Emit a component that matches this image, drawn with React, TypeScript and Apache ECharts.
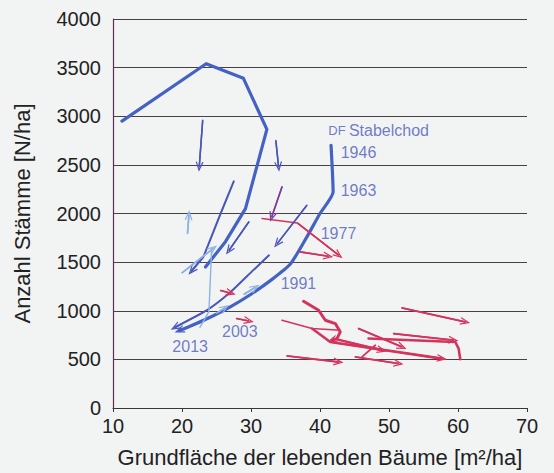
import React, { useEffect, useRef } from "react";
import * as echarts from "echarts";

// ---------- axis ----------
const xMin = 10;
const xMax = 70;
const xStep = 10;
const yMin = 0;
const yMax = 4000;
const yStep = 500;

// ---------- blue trajectories (DF Stabelchod) ----------
const loopTop = [[11.3, 2950], [23.5, 3540], [28.9, 3390], [32.3, 2865], [29.2, 2050], [26.3, 1710], [23.4, 1450]];
const loopInner = [[27.5, 2330], [25.6, 2000], [23.1, 1553], [21.4, 1410]];
const stabelchod = [[41.6, 2700], [41.9, 2220], [40.0, 2000], [38.1, 1760], [35.7, 1480], [33.0, 1320], [30.0, 1170], [27.0, 1040], [24.0, 930], [21.5, 850], [19.6, 795]];
const thinTrack = [[32.6, 1570], [30.3, 1415], [27.0, 1190], [23.6, 1005], [19.0, 830]];

// light blue
const lightA = [[20.0, 1390], [24.5, 1640]];
const lightB = [[24.3, 1640], [23.9, 990], [22.6, 830]];
const lightUp = [[20.8, 1795], [21.0, 1985]];
const lightOn1 = [[29.0, 1170], [30.6, 1240]];
const lightOn2 = [[25.0, 975], [26.2, 1030]];

// blue arrows
const down1 = [[23.0, 2960], [22.5, 2480]];
const down2 = [[33.6, 2750], [34.0, 2480]];
const diag1 = [[38.1, 2085], [33.8, 1690]];
const diag2 = [[29.7, 1915], [26.8, 1620]];
const purpleArrow = [[34.5, 2275], [33.0, 1965]];

// ---------- red trajectories ----------
const red1977 = [[31.6, 1949], [36.7, 1903], [42.7, 1571]];
const red2 = [[37.1, 1605], [41.2, 1561]];
const redSmall1 = [[25.6, 1208], [27.1, 1180]];
const redSmall2 = [[27.9, 920], [29.7, 895]];
const redA = [[37.62, 1098], [39.8, 1005], [40.77, 902], [42.22, 868], [42.94, 782], [42.46, 714], [41.74, 696]];
const redB = [[34.49, 902], [38.84, 817], [42.94, 799]];
const redC = [[38.84, 817], [41.49, 679], [57.68, 508]];
const redD = [[41.97, 714], [48.99, 594]];
const redE = [[45.59, 817], [51.88, 628]];
const redF = [[47.04, 714], [59.61, 679], [60.09, 611], [60.33, 501]];
const redG = [[50.67, 765], [59.36, 697]];
const redH = [[51.88, 1029], [61.06, 885]];
const redI = [[35.22, 535], [42.7, 473]];
const redJ = [[45.12, 525], [51.39, 457]];
const redK = [[48.01, 645], [46.09, 525]];

// ---------- labels ----------
const labelNames = ["1946", "1963", "1977", "1991", "2003", "2013"];
const labelPos = [[43.0, 2629], [43.0, 2238], [40.1, 1797], [34.3, 1283], [25.8, 789], [18.6, 635]];
const titlePos = [41.2, 2857];

const BLUE_THICK = "#4461c4";
const BLUE_THIN = "#4a56b8";
const LIGHT = "#8db2e6";
const RED = "#d4345c";
const PURPLE = "#7e3d9e";
const LABEL = "#4f5ab8";
const FONT = "'Liberation Sans', Arial, sans-serif";

const ARROW = "path://M0,10 L5,0 L10,10 L8.4,10 L5,3.2 L1.6,10 Z";

type Track = { data: number[][]; color: string; width: number; arrow: boolean; smooth?: number };

const tracks: Track[] = [
  { data: loopTop, color: BLUE_THICK, width: 3.2, arrow: false },
  { data: loopInner, color: BLUE_THIN, width: 2, arrow: true },
  { data: stabelchod, color: BLUE_THICK, width: 3.2, arrow: true, smooth: 0.2 },
  { data: thinTrack, color: BLUE_THIN, width: 2, arrow: true, smooth: 0.2 },
  { data: lightA, color: LIGHT, width: 1.6, arrow: true },
  { data: lightB, color: LIGHT, width: 1.4, arrow: false },
  { data: lightUp, color: LIGHT, width: 1.6, arrow: true },
  { data: lightOn1, color: LIGHT, width: 1.6, arrow: true },
  { data: lightOn2, color: LIGHT, width: 1.6, arrow: true },
  { data: down1, color: BLUE_THIN, width: 1.5, arrow: true },
  { data: down2, color: BLUE_THIN, width: 1.5, arrow: true },
  { data: diag1, color: BLUE_THIN, width: 1.5, arrow: true },
  { data: diag2, color: BLUE_THIN, width: 1.5, arrow: true },
  { data: purpleArrow, color: PURPLE, width: 1.5, arrow: true },
  { data: red1977, color: RED, width: 1.6, arrow: true },
  { data: red2, color: RED, width: 1.6, arrow: true },
  { data: redSmall1, color: RED, width: 1.6, arrow: true },
  { data: redSmall2, color: RED, width: 1.6, arrow: true },
  { data: redA, color: RED, width: 3, arrow: true },
  { data: redB, color: RED, width: 1.6, arrow: false },
  { data: redC, color: RED, width: 2.6, arrow: true },
  { data: redD, color: RED, width: 2.4, arrow: true },
  { data: redE, color: RED, width: 1.8, arrow: true },
  { data: redF, color: RED, width: 2.6, arrow: false },
  { data: redG, color: RED, width: 1.8, arrow: true },
  { data: redH, color: RED, width: 1.8, arrow: true },
  { data: redI, color: RED, width: 1.8, arrow: true },
  { data: redJ, color: RED, width: 1.8, arrow: true },
  { data: redK, color: RED, width: 1.8, arrow: false },
];

function buildSeries() {
  const series: any[] = tracks.map((t) => {
    const n = t.data.length;
    const s: any = {
      type: "line",
      data: t.data,
      symbol: "none",
      smooth: t.smooth || false,
      silent: true,
      lineStyle: { color: t.color, width: t.width, cap: "round", join: "round" },
      emphasis: { disabled: true },
      z: 3,
    };
    if (t.arrow) {
      s.markLine = {
        silent: true,
        symbol: ["none", ARROW],
        symbolSize: [8, 10],
        label: { show: false },
        emphasis: { disabled: true },
        lineStyle: { color: t.color, width: Math.min(t.width, 1.6), type: "solid" },
        itemStyle: { color: t.color },
        data: [[{ coord: t.data[n - 2] }, { coord: t.data[n - 1] }]],
      };
    }
    return s;
  });
  series.push({
    type: "scatter",
    silent: true,
    symbolSize: 0,
    z: 5,
    data: labelPos.map((p, i) => ({ value: p, name: labelNames[i] })),
    label: {
      show: true,
      position: "right",
      distance: 0,
      formatter: (p: any) => p.name,
      color: LABEL,
      fontSize: 16,
      fontFamily: FONT,
    },
  });
  series.push({
    type: "scatter",
    silent: true,
    symbolSize: 0,
    z: 5,
    data: [{ value: titlePos, name: "DF Stabelchod" }],
    label: {
      show: true,
      position: "right",
      distance: 0,
      formatter: "{a|DF} {b|Stabelchod}",
      rich: {
        a: { color: LABEL, fontSize: 13, fontFamily: FONT },
        b: { color: LABEL, fontSize: 16, fontFamily: FONT },
      },
    },
  });
  return series;
}

export default function App() {
  const ref = useRef<HTMLDivElement>(null);
  useEffect(() => {
    if (!ref.current) return;
    const chart = echarts.init(ref.current, undefined, { renderer: "svg" });
    chart.setOption({
      animation: false,
      backgroundColor: "#f2f4f4",
      grid: { left: 113, right: 27, top: 19, bottom: 65 },
      xAxis: {
        type: "value",
        min: xMin,
        max: xMax,
        interval: xStep,
        name: "Grundfläche der lebenden Bäume [m²/ha]",
        nameLocation: "middle",
        nameGap: 38,
        nameTextStyle: { color: "#222", fontSize: 22, fontFamily: FONT },
        axisLine: { show: true, lineStyle: { color: "#3d3438", width: 1.2 } },
        axisTick: { show: true, length: 4, lineStyle: { color: "#3d3438" } },
        axisLabel: { color: "#222", fontSize: 20, fontFamily: FONT, margin: 8, formatter: (v: number) => String(v) },
        splitLine: { show: false },
      },
      yAxis: {
        type: "value",
        min: yMin,
        max: yMax,
        interval: yStep,
        name: "Anzahl Stämme [N/ha]",
        nameLocation: "middle",
        nameGap: 80,
        nameTextStyle: { color: "#222", fontSize: 22, fontFamily: FONT },
        axisLine: { show: true, lineStyle: { color: "#5b3050", width: 1.2 } },
        axisTick: { show: false },
        axisLabel: { color: "#222", fontSize: 20, fontFamily: FONT, margin: 12, formatter: (v: number) => String(v) },
        splitLine: { show: true, lineStyle: { color: "#4b3f45", width: 1.2 } },
      },
      series: buildSeries(),
    });
    return () => chart.dispose();
  }, []);
  return (
    <div
      ref={ref}
      style={{ position: "fixed", left: 0, top: 0, width: 554, height: 473, background: "#f2f4f4" }}
    />
  );
}
